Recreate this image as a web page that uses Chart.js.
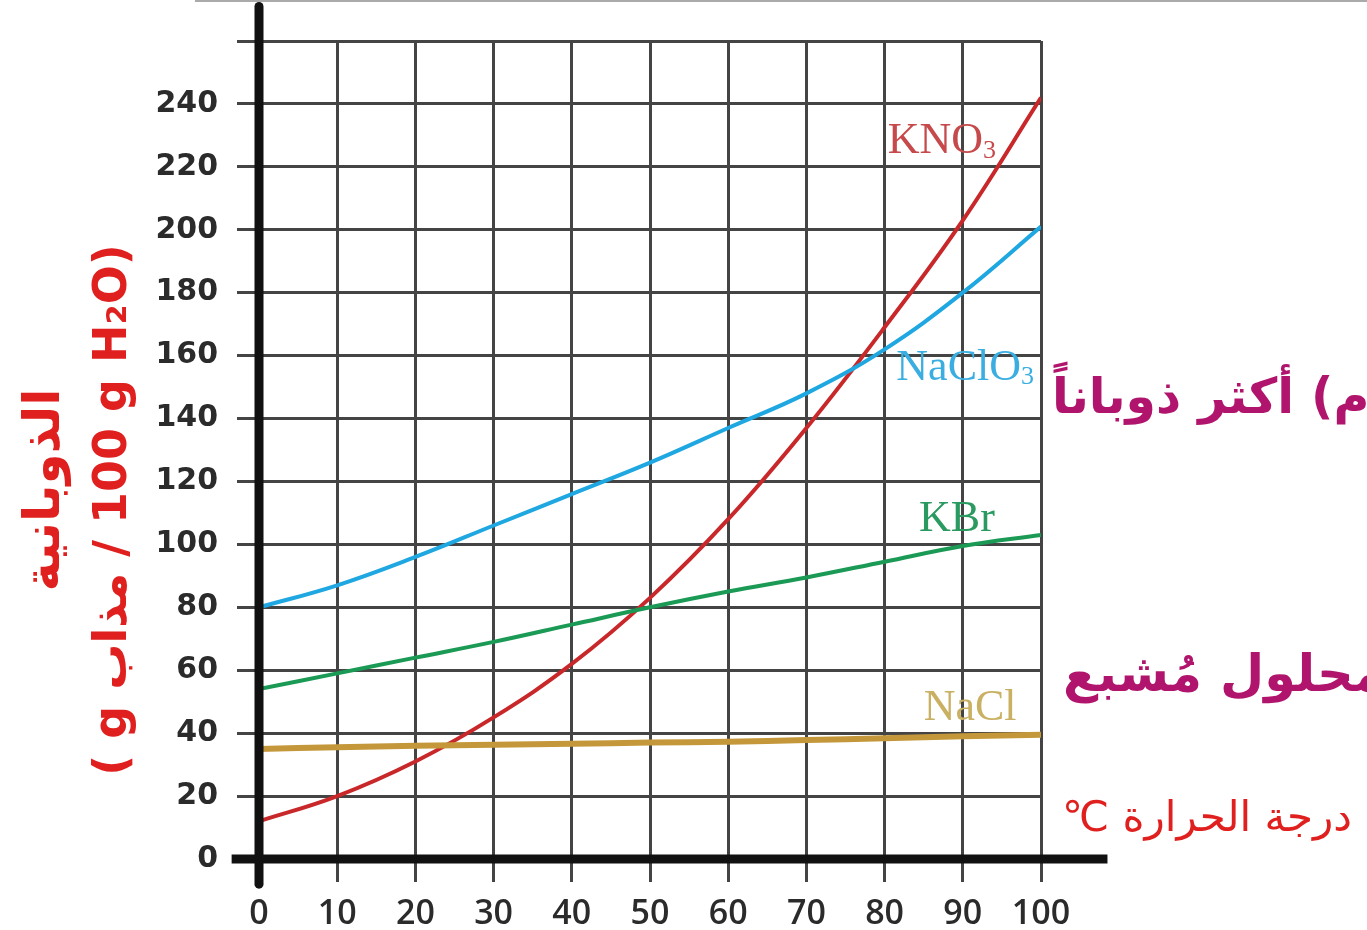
<!DOCTYPE html>
<html>
<head>
<meta charset="utf-8">
<script src="https://cdn.jsdelivr.net/npm/chart.js@4/dist/chart.umd.min.js"></script>
<style>
  body { margin: 0; background: #fff; }
  #wrap { width: 1367px; height: 930px; }
</style>
</head>
<body>
<div id="wrap"><canvas id="chart" width="1367" height="930"></canvas></div>
<script>
// temperature (°C) and solubility (g solute / 100 g water)
const temps = [0, 10, 20, 30, 40, 50, 60, 70, 80, 90, 100];
const kno3 = [12, 20, 31, 45, 62, 83, 108, 137, 169, 203, 242];
const naclo3 = [80, 87, 96, 106, 116, 126, 137, 148, 162, 180, 201];
const kbr = [54, 59, 64, 69, 74.5, 80, 85, 89.5, 94.5, 99.5, 103];
const nacl = [35, 35.5, 36, 36.3, 36.6, 37, 37.3, 37.8, 38.4, 39, 39.5];

const yMax = 260;
const yStep = 20;
const xStep = 10;

const curveLabels = [
  { text: 'KNO', sub: '3', x: 80.4, y: 228, color: '#c64a4c' },
  { text: 'NaClO', sub: '3', x: 81.5, y: 156, color: '#3aaee0' },
  { text: 'KBr', sub: '', x: 84.4, y: 108, color: '#2a9a60' },
  { text: 'NaCl', sub: '', x: 85.0, y: 48, color: '#c9b062' }
];

const yTitle1 = 'الذوبانية';
const yTitle2 = '( g مذاب\u200E / 100 g H₂O)';
const sideNotes = [
  { text: 'م) أكثر ذوباناً', y: 400, x: 1052, color: '#b0146c', font: 'bold 49px "DejaVu Sans", sans-serif' },
  { text: 'محلول مُشبع', y: 678, x: 1063, color: '#b0146c', font: 'bold 51px "DejaVu Sans", sans-serif' },
  { text: 'درجة الحرارة ℃', y: 820, x: 1062, color: '#e0201e', font: '42px "DejaVu Sans", sans-serif' }
];

function series(vals) {
  return temps.map((t, i) => ({ x: t, y: vals[i] }));
}

function lineSet(label, vals, color, width) {
  return {
    label,
    data: series(vals),
    borderColor: color,
    borderWidth: width,
    pointRadius: 0,
    fill: false,
    tension: 0.4
  };
}

const extras = {
  id: 'extras',
  afterDatasetsDraw(chart) {
    const { ctx, scales: { x, y } } = chart;
    ctx.save();
    // curve labels
    curveLabels.forEach(l => {
      ctx.fillStyle = l.color;
      ctx.font = '44px "Liberation Serif", serif';
      ctx.textBaseline = 'middle';
      ctx.textAlign = 'left';
      const px = x.getPixelForValue(l.x);
      const py = y.getPixelForValue(l.y);
      ctx.fillText(l.text, px, py);
      if (l.sub) {
        const w = ctx.measureText(l.text).width;
        ctx.font = '26px "Liberation Serif", serif';
        ctx.fillText(l.sub, px + w, py + 9);
      }
    });
    // thick axes
    ctx.strokeStyle = '#111';
    ctx.lineWidth = 9;
    ctx.lineCap = 'round';
    ctx.beginPath();
    ctx.moveTo(x.getPixelForValue(0), y.getPixelForValue(271));
    ctx.lineTo(x.getPixelForValue(0), y.getPixelForValue(-8));
    ctx.stroke();
    ctx.lineCap = 'butt';
    ctx.beginPath();
    ctx.moveTo(x.getPixelForValue(-3.5), y.getPixelForValue(0));
    ctx.lineTo(x.getPixelForValue(108.5), y.getPixelForValue(0));
    ctx.stroke();
    ctx.restore();
  },
  afterDraw(chart) {
    const { ctx } = chart;
    ctx.save();
    // top thin rule
    ctx.strokeStyle = '#aaa';
    ctx.lineWidth = 2;
    ctx.beginPath();
    ctx.moveTo(195, 1);
    ctx.lineTo(1367, 1);
    ctx.stroke();
    // y axis title
    ctx.fillStyle = '#e0201e';
    ctx.textAlign = 'center';
    ctx.textBaseline = 'middle';
    ctx.font = 'bold 50px "DejaVu Sans", sans-serif';
    ctx.translate(46, 490);
    ctx.rotate(-Math.PI / 2);
    ctx.direction = 'rtl';
    ctx.fillText(yTitle1, 0, 0);
    ctx.restore();

    ctx.save();
    ctx.fillStyle = '#e0201e';
    ctx.textAlign = 'center';
    ctx.textBaseline = 'middle';
    ctx.font = 'bold 46px "DejaVu Sans", sans-serif';
    ctx.translate(114, 510);
    ctx.rotate(-Math.PI / 2);
    ctx.direction = 'ltr';
    ctx.fillText(yTitle2, 0, 0);
    ctx.restore();

    // notes on the right
    ctx.save();
    ctx.direction = 'rtl';
    ctx.textAlign = 'left';
    ctx.textBaseline = 'middle';
    sideNotes.forEach(n => {
      ctx.fillStyle = n.color;
      ctx.font = n.font;
      ctx.fillText(n.text, n.x, n.y);
    });
    ctx.restore();
  }
};

new Chart(document.getElementById('chart'), {
  type: 'line',
  data: {
    datasets: [
      lineSet('NaCl', nacl, '#c4983a', 6),
      lineSet('KBr', kbr, '#1a9a55', 4),
      lineSet('NaClO3', naclo3, '#1ea7e1', 4),
      lineSet('KNO3', kno3, '#c8282a', 4)
    ]
  },
  options: {
    responsive: false,
    animation: false,
    layout: { padding: { top: 41, right: 326, left: 0, bottom: 0 } },
    plugins: {
      legend: { display: false },
      tooltip: { enabled: false }
    },
    scales: {
      x: {
        type: 'linear',
        min: 0,
        max: 100,
        afterFit: s => { s.height = 71; },
        border: { display: false },
        grid: { color: '#444', lineWidth: 3, tickLength: 23, tickColor: '#444' },
        ticks: {
          stepSize: xStep,
          padding: 12,
          color: '#2b2b2b',
          font: { family: '"Open Sans", sans-serif', size: 34, weight: '600' }
        }
      },
      y: {
        min: 0,
        max: yMax,
        afterFit: s => { s.width = 259; },
        border: { display: false },
        grid: { color: '#444', lineWidth: 3, tickLength: 22, tickColor: '#444' },
        ticks: {
          stepSize: yStep,
          padding: 19,
          color: '#2b2b2b',
          font: { family: '"DejaVu Sans", sans-serif', size: 30, weight: 'bold' },
          callback: v => (v === yMax ? '' : v)
        }
      }
    }
  },
  plugins: [extras]
});
</script>
</body>
</html>
